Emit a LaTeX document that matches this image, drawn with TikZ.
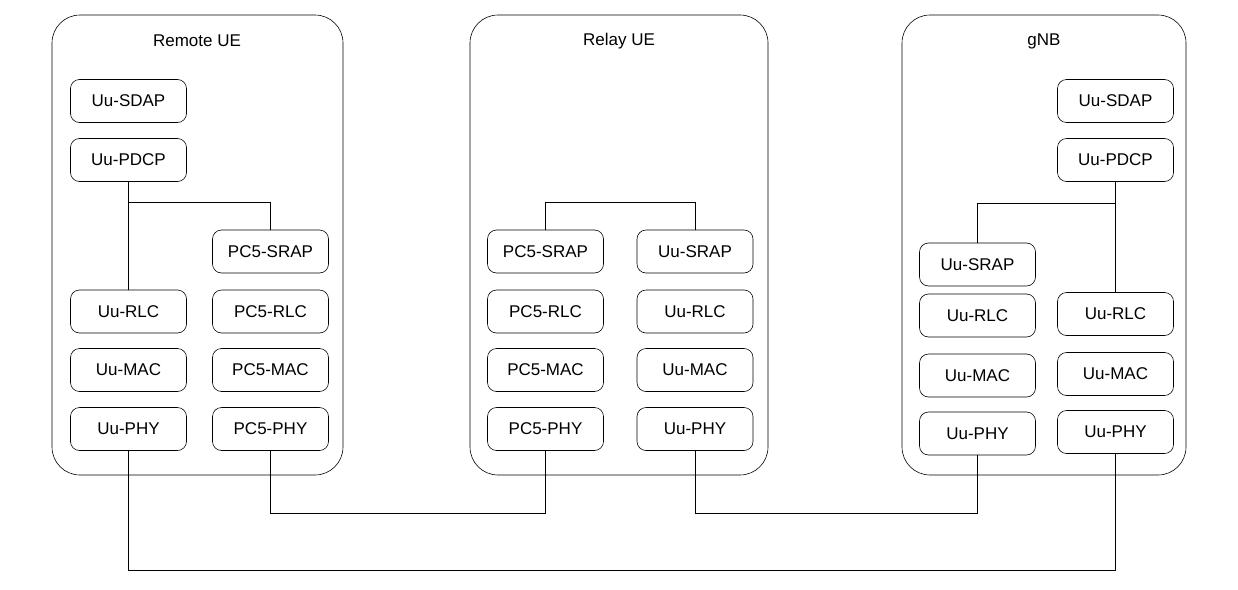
\documentclass[tikz,border=0pt]{standalone}
\usepackage{fontspec}
\setmainfont{Liberation Sans}
\begin{document}
\begin{tikzpicture}[x=1pt,y=-1pt,line width=0.6pt,
  cont/.style={draw,rounded corners=28pt},
  lay/.style={draw,rounded corners=9pt,minimum width=116pt,minimum height=43pt,font=\fontsize{17}{20}\selectfont,inner sep=0pt},
  ttl/.style={font=\fontsize{17}{20}\selectfont},
  conn/.style={draw,line width=0.5pt}]
\useasboundingbox (0,0) rectangle (1238,589);
\draw[cont] (52,15) rectangle (343,475);
\draw[cont] (470,15) rectangle (768,475);
\draw[cont] (902,15) rectangle (1186,475);
\node[ttl] (t1) at (197,41) {Remote UE};
\node[ttl] (t2) at (619,41) {Relay UE};
\node[ttl] (t3) at (1044,41) {gNB};
% Remote
\node[lay] (rsdap) at (128.5,101) {Uu-SDAP};
\node[lay] (rpdcp) at (128.5,160) {Uu-PDCP};
\node[lay] (rsrap) at (270.5,251.5) {PC5-SRAP};
\node[lay] (rrlc) at (128.5,311.5) {Uu-RLC};
\node[lay] (rprlc) at (270.5,311.5) {PC5-RLC};
\node[lay] (rmac) at (128.5,370) {Uu-MAC};
\node[lay] (rpmac) at (270.5,370) {PC5-MAC};
\node[lay] (rphy) at (128.5,429) {Uu-PHY};
\node[lay] (rpphy) at (270.5,429) {PC5-PHY};
% Relay
\node[lay] (lsrap) at (545.5,251.5) {PC5-SRAP};
\node[lay] (lusrap) at (695,251.5) {Uu-SRAP};
\node[lay] (lrlc) at (545.5,311.5) {PC5-RLC};
\node[lay] (lurlc) at (695,311.5) {Uu-RLC};
\node[lay] (lmac) at (545.5,370) {PC5-MAC};
\node[lay] (lumac) at (695,370) {Uu-MAC};
\node[lay] (lphy) at (545.5,429) {PC5-PHY};
\node[lay] (luphy) at (695,429) {Uu-PHY};
% gNB
\node[lay] (gsdap) at (1115.5,101) {Uu-SDAP};
\node[lay] (gpdcp) at (1115.5,160) {Uu-PDCP};
\node[lay] (gsrap) at (977.5,264.5) {Uu-SRAP};
\node[lay] (grlc) at (977.5,315.5) {Uu-RLC};
\node[lay] (grrlc) at (1115.5,314) {Uu-RLC};
\node[lay] (gmac) at (977.5,375.5) {Uu-MAC};
\node[lay] (grmac) at (1115.5,374) {Uu-MAC};
\node[lay] (gphy) at (977.5,433.5) {Uu-PHY};
\node[lay] (grphy) at (1115.5,432) {Uu-PHY};
% brackets
\draw[conn] (rpdcp.south) -- (rrlc.north);
\draw[conn] (rpdcp.south |- 0,202) -| (rsrap.north);
\draw[conn] (lsrap.north) |- (545.5,202) -| (lusrap.north);
\draw[conn] (gpdcp.south) -- (grrlc.north);
\draw[conn] (gsrap.north) |- (1115.5,203);
% links
\draw[conn] (rpphy.south) |- (545.5,513) -- (lphy.south);
\draw[conn] (luphy.south) |- (977.5,513) -- (gphy.south);
\draw[conn] (rphy.south) |- (1115.5,570) -- (grphy.south);
\end{tikzpicture}
\end{document}
